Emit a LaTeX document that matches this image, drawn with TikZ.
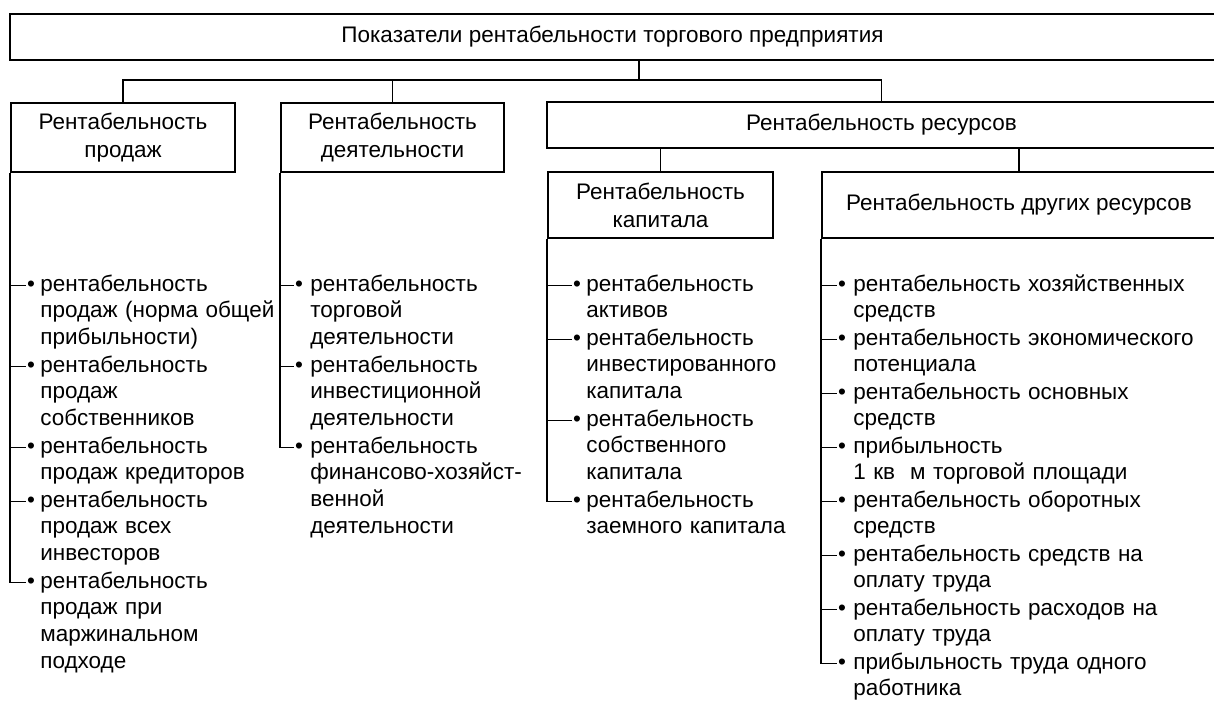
\documentclass[tikz,border=0pt]{standalone}
\usepackage{fontspec}
\setmainfont{Liberation Sans}
\usepackage{tikz}
\tikzset{
    box/.style={draw, line width=1.1pt, align=center, inner sep=0pt, font=\fontsize{12.8pt}{16pt}\selectfont},
    item/.style={anchor=base west, inner sep=0pt, text width=#1, align=left, font=\fontsize{12.8pt}{15.3pt}\selectfont}, item/.default=5cm,
    dot/.style={anchor=base, inner sep=0.5pt, font=\fontsize{12.8pt}{15.3pt}\selectfont},
    conn/.style={line width=0.8pt}}

\begin{document}
\begin{tikzpicture}[x=0.02cm, y=-0.02cm]
\useasboundingbox (0,0) rectangle (1214,700);

%Boxes
\node[box, minimum width=24.1cm, minimum height=0.92cm] (title) at (612.5,37) {Показатели рентабельности торгового предприятия};
\node[box, minimum width=4.48cm, minimum height=1.38cm] (sales) at (123,137.5) {Рентабельность\\продаж};
\node[box, minimum width=4.46cm, minimum height=1.38cm] (act) at (392.5,137.5) {Рентабельность\\деятельности};
\node[box, minimum width=13.38cm, minimum height=0.92cm] (res) at (881.5,125) {Рентабельность ресурсов};
\node[box, minimum width=4.5cm, minimum height=1.32cm] (cap) at (660.5,205) {Рентабельность\\капитала};
\node[box, minimum width=7.88cm, minimum height=1.32cm] (oth) at (1019,205) {Рентабельность других ресурсов};

\coordinate (bus) at (639,80);
\draw[conn] (title.south -| bus) -- (bus);
\draw[conn] (sales.north) |- (res.north |- bus) -- (res.north);
\draw[conn] (act.north) -- (act.north |- bus);
\draw[conn] (res.south -| cap.north) -- (cap.north);
\draw[conn] (res.south -| oth.north) -- (oth.north);

%Sales
\node[dot] (s1) at (31,291) {•};
\node[item=5.2cm] (s1t) at (40,291) {рентабельность\\продаж (норма общей\\прибыльности)};
\node[dot] (s2) at (31,372) {•};
\node[item=5.2cm] (s2t) at (40,372) {рентабельность\\продаж\\собственников};
\node[dot] (s3) at (31,453) {•};
\node[item=5.2cm] (s3t) at (40,453) {рентабельность\\продаж кредиторов};
\node[dot] (s4) at (31,507) {•};
\node[item=5.2cm] (s4t) at (40,507) {рентабельность\\продаж всех\\инвесторов};
\node[dot] (s5) at (31,588) {•};
\node[item=5.2cm] (s5t) at (40,588) {рентабельность\\продаж при\\маржинальном\\подходе};
\draw[conn] (sales.south west) |- (s5.west);
\draw[conn] (s1.west -| sales.south west) -- (s1.west);
\draw[conn] (s2.west -| sales.south west) -- (s2.west);
\draw[conn] (s3.west -| sales.south west) -- (s3.west);
\draw[conn] (s4.west -| sales.south west) -- (s4.west);

%Activity
\node[dot] (a1) at (299,291) {•};
\node[item] (a1t) at (310,291) {рентабельность\\торговой\\деятельности};
\node[dot] (a2) at (299,372) {•};
\node[item] (a2t) at (310,372) {рентабельность\\инвестиционной\\деятельности};
\node[dot] (a3) at (299,453) {•};
\node[item] (a3t) at (310,453) {рентабельность\\финансово-хозяйст-\\венной\\деятельности};
\draw[conn] (act.south west) |- (a3.west);
\draw[conn] (a1.west -| act.south west) -- (a1.west);
\draw[conn] (a2.west -| act.south west) -- (a2.west);

%Capital
\node[dot] (c1) at (577,291) {•};
\node[item] (c1t) at (586,291) {рентабельность\\активов};
\node[dot] (c2) at (577,345) {•};
\node[item] (c2t) at (586,345) {рентабельность\\инвестированного\\капитала};
\node[dot] (c3) at (577,426) {•};
\node[item] (c3t) at (586,426) {рентабельность\\собственного\\капитала};
\node[dot] (c4) at (577,507) {•};
\node[item] (c4t) at (586,507) {рентабельность\\заемного капитала};
\draw[conn] (cap.south west) |- (c4.west);
\draw[conn] (c1.west -| cap.south west) -- (c1.west);
\draw[conn] (c2.west -| cap.south west) -- (c2.west);
\draw[conn] (c3.west -| cap.south west) -- (c3.west);

%Other resources
\node[dot] (o1) at (842,291) {•};
\node[item=7.3cm] (o1t) at (853,291) {рентабельность хозяйственных\\средств};
\node[dot] (o2) at (842,345) {•};
\node[item=7.3cm] (o2t) at (853,345) {рентабельность экономического\\потенциала};
\node[dot] (o3) at (842,399) {•};
\node[item=7.3cm] (o3t) at (853,399) {рентабельность основных\\средств};
\node[dot] (o4) at (842,453) {•};
\node[item=7.3cm] (o4t) at (853,453) {прибыльность\\1 кв~~м торговой площади};
\node[dot] (o5) at (842,507) {•};
\node[item=7.3cm] (o5t) at (853,507) {рентабельность оборотных\\средств};
\node[dot] (o6) at (842,561) {•};
\node[item=7.3cm] (o6t) at (853,561) {рентабельность средств на\\оплату труда};
\node[dot] (o7) at (842,615) {•};
\node[item=7.3cm] (o7t) at (853,615) {рентабельность расходов на\\оплату труда};
\node[dot] (o8) at (842,669) {•};
\node[item=7.3cm] (o8t) at (853,669) {прибыльность труда одного\\работника};
\draw[conn] (oth.south west) |- (o8.west);
\draw[conn] (o1.west -| oth.south west) -- (o1.west);
\draw[conn] (o2.west -| oth.south west) -- (o2.west);
\draw[conn] (o3.west -| oth.south west) -- (o3.west);
\draw[conn] (o4.west -| oth.south west) -- (o4.west);
\draw[conn] (o5.west -| oth.south west) -- (o5.west);
\draw[conn] (o6.west -| oth.south west) -- (o6.west);
\draw[conn] (o7.west -| oth.south west) -- (o7.west);
\end{tikzpicture}
\end{document}
